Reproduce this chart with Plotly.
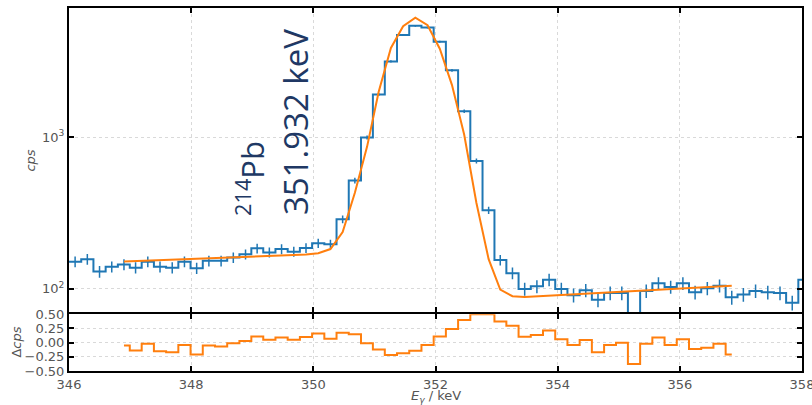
import numpy as np
import plotly.graph_objects as go

# Bin centres (keV) of the measured spectrum
energy = [346.10, 346.30, 346.50, 346.70, 346.90, 347.09, 347.29, 347.49, 347.69, 347.89,
          348.09, 348.29, 348.49, 348.69, 348.89, 349.08, 349.28, 349.48, 349.68, 349.88,
          350.08, 350.28, 350.48, 350.68, 350.88, 351.07, 351.27, 351.47, 351.67, 351.87,
          352.07, 352.27, 352.47, 352.67, 352.87, 353.06, 353.26, 353.46, 353.66, 353.86,
          354.06, 354.26, 354.46, 354.66, 354.86, 355.05, 355.25, 355.45, 355.65, 355.85,
          356.05, 356.25, 356.45, 356.65, 356.85, 357.04, 357.24, 357.44, 357.64, 357.84,
          358.04]

# Measured count rate (cps)
counts = [151, 157, 130, 140, 145, 138, 151, 140, 138, 151,
          137, 153, 153, 161, 169, 185, 174, 183, 176, 186,
          200, 197, 288, 517, 994, 1910, 3150, 4700, 5400, 5260,
          4240, 2750, 1480, 695, 330, 155, 127, 100, 104, 115,
          100, 91, 98, 85, 94, 94, 62, 97, 109, 103,
          109, 95, 101, 105, 88, 92, 97, 95, 94, 81,
          115]

# Fit region (bin centres 346.90 .. 356.85)
fit_start, fit_end = 4, 55
fit_values = [151.8, 152.7, 153.9, 154.9, 156, 157, 158.2, 159.2, 160.4, 161.3,
              162.6, 163.6, 164.6, 165.9, 167.1, 168.8, 172, 183, 237, 430,
              865, 1990, 3860, 5370, 6120, 5450, 3820, 2200, 1035, 368,
              157, 99, 89.5, 88.3, 89.2, 89.9, 91.3, 92.3, 93.3, 94.1,
              95.1, 96, 97, 97.9, 98.9, 100, 101, 102, 103, 104, 105]

residuals = [-0.05, -0.14, -0.02, -0.15, -0.17, -0.04, -0.21, -0.05, -0.07, -0.01,
             0.03, 0.11, 0.05, 0.09, 0.05, 0.10, 0.16, 0.07, 0.175, 0.15,
             -0.01, -0.12, -0.22, -0.185, -0.145, -0.04, 0.11, 0.24, 0.40, 0.50,
             0.50, 0.375, 0.30, 0.105, 0.135, 0.215, 0.06, -0.04, 0.045, -0.17,
             -0.04, 0.00, -0.375, -0.02, 0.09, -0.04, 0.06, -0.11, -0.09, -0.02,
             -0.21]

x_ticks = [346, 348, 350, 352, 354, 356, 358]
y_ticks = [100, 1000]
y_ticktext = ["10<sup>2</sup>", "10<sup>3</sup>"]
res_ticks = [-0.5, -0.25, 0.0, 0.25, 0.5]
res_ticktext = ["\u22120.50", "\u22120.25", "0.00", "0.25", "0.50"]

BLUE = "#1f77b4"
ORANGE = "#ff7f0e"
GREY = "#555555"
NAVY = "#203864"

c = np.array(energy)
mids = (c[1:] + c[:-1]) / 2
edges = np.concatenate([[c[0] - (c[1] - c[0]) / 2], mids, [c[-1] + (c[-1] - c[-2]) / 2]])
step_y = counts + [counts[-1]]
fit_x = energy[fit_start:fit_end]

fig = go.Figure()
fig.add_trace(go.Scatter(x=edges, y=step_y, mode="lines", line=dict(color=BLUE, width=2, shape="hv"),
                         xaxis="x", yaxis="y", showlegend=False, hoverinfo="skip"))
fig.add_trace(go.Scatter(x=energy, y=counts, mode="markers", marker=dict(size=0.1, color=BLUE),
                         error_y=dict(type="data", array=np.sqrt(counts), color=BLUE, thickness=1.5, width=0),
                         xaxis="x", yaxis="y", showlegend=False))
fig.add_trace(go.Scatter(x=fit_x, y=fit_values, mode="lines", line=dict(color=ORANGE, width=2),
                         xaxis="x", yaxis="y", showlegend=False))
fig.add_trace(go.Scatter(x=fit_x, y=residuals, mode="lines", line=dict(color=ORANGE, width=2, shape="hvh"),
                         xaxis="x2", yaxis="y2", showlegend=False))

PLOT_H = 405 - 8 - 34
split = 0.1617
gap = 2 / PLOT_H
x_range = [346, 358]
axis_common = dict(showline=True, linecolor="black", linewidth=2, mirror="allticks",
                   ticks="inside", ticklen=5, tickwidth=1.5, tickcolor="black",
                   showgrid=True, gridcolor="#d9d9d9", griddash="dot", gridwidth=1,
                   zeroline=False, automargin=False, ticklabeloverflow="allow",
                   tickfont=dict(family="DejaVu Sans", size=13, color=GREY))

fig.update_layout(
    width=812, height=405,
    margin=dict(l=69, r=10, t=8, b=34),
    paper_bgcolor="white", plot_bgcolor="white",
    xaxis=dict(range=x_range, domain=[0, 1], anchor="y", tickvals=x_ticks, showticklabels=False,
               matches="x2", **axis_common),
    xaxis2=dict(range=x_range, domain=[0, 1], anchor="y2", tickvals=x_ticks,
                **axis_common),
    yaxis=dict(type="log", range=[1.846, 3.85], domain=[split, 1], anchor="x",
               tickvals=y_ticks, ticktext=y_ticktext, **axis_common),
    yaxis2=dict(range=[-0.5, 0.5], domain=[0, split - gap], anchor="x2",
                tickvals=res_ticks, ticktext=res_ticktext, **axis_common),
)

# axis titles placed as paper-referenced annotations
title_font = dict(family="DejaVu Sans", size=13, color=GREY)
fig.add_annotation(x=0.5, y=-0.071, xref="paper", yref="paper", yanchor="middle",
                   text="<i>E</i><sub><i>\u03b3</i></sub> / keV", showarrow=False, font=title_font)
fig.add_annotation(x=-0.053, y=0.58, xref="paper", yref="paper", xanchor="center", yanchor="middle",
                   text="<i>cps</i>", textangle=-90, showarrow=False, font=title_font)
fig.add_annotation(x=-0.071, y=split / 2, xref="paper", yref="paper", xanchor="center", yanchor="middle",
                   text="\u0394<i>cps</i>", textangle=-90, showarrow=False, font=title_font)

fig.add_annotation(x=348.96, y=2.73, xref="x", yref="y", text="<sup>214</sup>Pb",
                   textangle=-90, showarrow=False, xanchor="center", yanchor="middle",
                   font=dict(family="Open Sans", size=31, color=NAVY))
fig.add_annotation(x=349.72, y=3.10, xref="x", yref="y", text="351.932 keV",
                   textangle=-90, showarrow=False, xanchor="center", yanchor="middle",
                   font=dict(family="Open Sans", size=33, color=NAVY))

fig.write_html("out.html")
